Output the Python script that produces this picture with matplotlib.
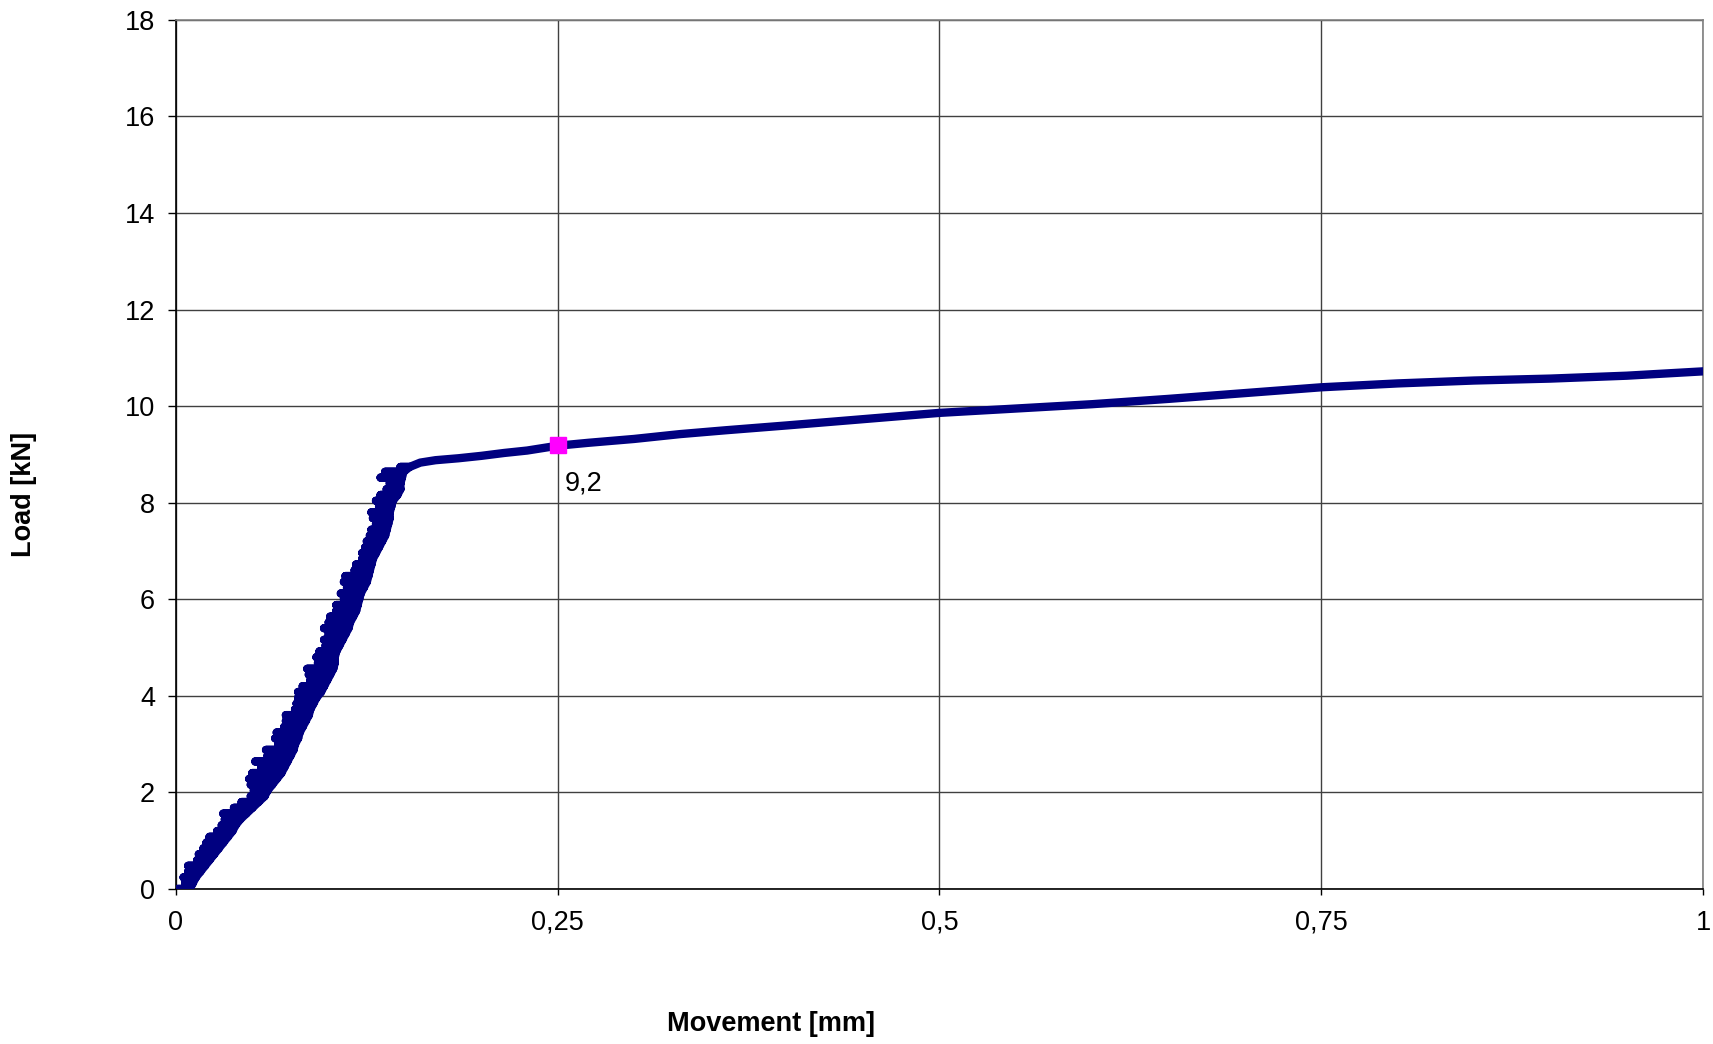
import matplotlib
matplotlib.use("Agg")
import matplotlib.pyplot as plt
from matplotlib.ticker import FixedLocator

# =====================
# Data
# =====================
# loading part: core of the band (right edge) and the left end of the
# short horizontal dash recorded at each load level
rise_load = [0.00, 0.12, 0.24, 0.36, 0.48, 0.60, 0.72, 0.84, 0.96, 1.08,
             1.20, 1.32, 1.44, 1.56, 1.68, 1.80, 1.92, 2.04, 2.16, 2.28,
             2.40, 2.52, 2.64, 2.76, 2.88, 3.00, 3.12, 3.24, 3.36, 3.48,
             3.60, 3.72, 3.84, 3.96, 4.08, 4.20, 4.32, 4.44, 4.56, 4.68,
             4.80, 4.92, 5.04, 5.16, 5.28, 5.40, 5.52, 5.64, 5.76, 5.88,
             6.00, 6.12, 6.24, 6.36, 6.48, 6.60, 6.72, 6.84, 6.96, 7.08,
             7.20, 7.32, 7.44, 7.56, 7.68, 7.80, 7.92, 8.04, 8.16, 8.28,
             8.40, 8.52, 8.64, 8.74]
rise_core = [0.009, 0.011, 0.013, 0.016, 0.019, 0.022, 0.025, 0.028, 0.031, 0.034,
             0.037, 0.039, 0.042, 0.046, 0.050, 0.054, 0.058, 0.060, 0.063, 0.066,
             0.069, 0.071, 0.073, 0.075, 0.077, 0.078, 0.080, 0.081, 0.083, 0.085,
             0.087, 0.088, 0.090, 0.092, 0.095, 0.097, 0.099, 0.101, 0.103, 0.104,
             0.104, 0.105, 0.107, 0.109, 0.111, 0.113, 0.114, 0.116, 0.118, 0.119,
             0.120, 0.121, 0.123, 0.125, 0.126, 0.127, 0.128, 0.129, 0.131, 0.133,
             0.135, 0.137, 0.138, 0.139, 0.140, 0.140, 0.141, 0.142, 0.145, 0.147,
             0.147, 0.148, 0.149, 0.153]
rise_left = [0.001, 0.006, 0.005, 0.008, 0.008, 0.014, 0.015, 0.018, 0.020, 0.022,
             0.027, 0.030, 0.032, 0.031, 0.038, 0.043, 0.049, 0.051, 0.049, 0.048,
             0.050, 0.056, 0.052, 0.060, 0.059, 0.067, 0.065, 0.066, 0.071, 0.072,
             0.072, 0.078, 0.079, 0.080, 0.080, 0.083, 0.088, 0.087, 0.086, 0.093,
             0.092, 0.094, 0.098, 0.097, 0.100, 0.097, 0.100, 0.101, 0.105, 0.105,
             0.110, 0.108, 0.112, 0.110, 0.111, 0.117, 0.118, 0.122, 0.122, 0.124,
             0.125, 0.127, 0.128, 0.131, 0.129, 0.128, 0.133, 0.131, 0.134, 0.138,
             0.140, 0.134, 0.137, 0.147]

# yielding part
plat_mm = [0.160, 0.170, 0.185, 0.200, 0.215, 0.230, 0.250, 0.270, 0.300, 0.330,
           0.360, 0.400, 0.450, 0.500, 0.550, 0.600, 0.650, 0.700, 0.750, 0.800,
           0.850, 0.900, 0.950, 1.000]
plat_load = [8.83, 8.88, 8.92, 8.97, 9.03, 9.08, 9.18, 9.24, 9.32, 9.42,
             9.50, 9.60, 9.73, 9.86, 9.95, 10.04, 10.15, 10.27, 10.39, 10.47,
             10.53, 10.57, 10.63, 10.72]

mark_mm = 0.25
mark_load = 9.2
mark_text = "9,2"

x_ticks = [0, 0.25, 0.5, 0.75, 1]
x_ticklabels = ["0", "0,25", "0,5", "0,75", "1"]
y_ticks = [0, 2, 4, 6, 8, 10, 12, 14, 16, 18]

# =====================
# Build curve: core -> dash to the left -> back to core
# =====================
mm = []
load = []
for ld, core, lft in zip(rise_load, rise_core, rise_left):
    mm += [core, lft, core]
    load += [ld, ld, ld]
mm += plat_mm
load += plat_load

# =====================
# Plot
# =====================
plt.rcParams["font.family"] = ["Liberation Sans", "DejaVu Sans"]
fsize = 19.5

fig = plt.figure(figsize=(17.13, 10.44), dpi=100)
ax = fig.add_axes([0.1027, 0.1485, 0.8915, 0.8325])

ax.plot(mm, load, color="#000080", lw=6, solid_joinstyle="round",
        solid_capstyle="round", zorder=3)
ax.plot([mark_mm], [mark_load], marker="s", ms=11, color="#FF00FF",
        linestyle="none", zorder=4)
ax.annotate(mark_text, (mark_mm, mark_load), xytext=(19, -28),
            textcoords="offset points", ha="center", va="center", fontsize=fsize)

ax.set_xlim(0, 1)
ax.set_ylim(0, 18)
ax.xaxis.set_major_locator(FixedLocator(x_ticks))
ax.set_xticklabels(x_ticklabels)
ax.yaxis.set_major_locator(FixedLocator(y_ticks))
ax.grid(True, color="#404040", lw=1)
ax.set_axisbelow(True)

ax.tick_params(axis="y", direction="out", length=6, width=1, pad=9, labelsize=fsize)
ax.tick_params(axis="x", direction="out", length=4, width=1, pad=11, labelsize=fsize)
ax.spines["left"].set_color("black")
ax.spines["bottom"].set_color("black")
ax.spines["top"].set_color("#808080")
ax.spines["right"].set_color("#808080")
for s in ax.spines.values():
    s.set_linewidth(1.2)

fig.text(0.450, 0.0195, "Movement [mm]", ha="center", va="center",
         fontsize=fsize, fontweight="bold")
fig.text(0.014, 0.526, "Load [kN]", ha="center", va="center",
         fontsize=fsize, fontweight="bold", rotation=90)

fig.savefig("out.png", dpi=100)
